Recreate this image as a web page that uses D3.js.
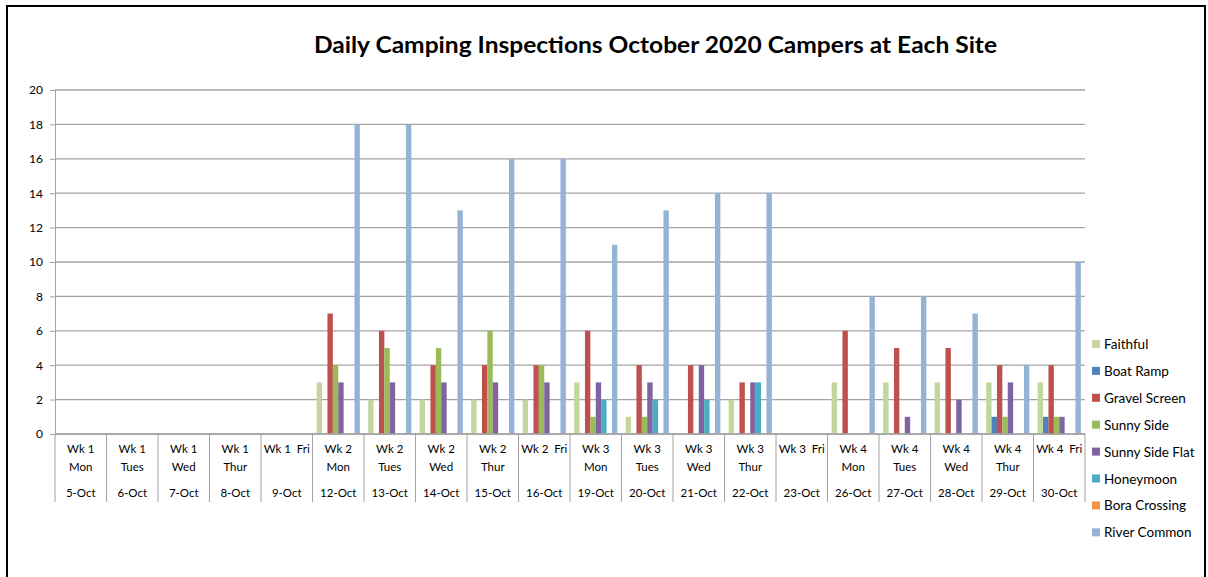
<!DOCTYPE html>
<html><head><meta charset="utf-8">
<script src="https://cdn.jsdelivr.net/npm/d3@7"></script>
<style>
html,body{margin:0;padding:0;background:#fff;}
svg{display:block;font-family:Lato,"Open Sans",sans-serif;}
</style></head>
<body>
<svg id="chart" width="1208" height="577"></svg>
<script>
// ---- data ----
const weekLabels = ["Wk 1","Wk 1","Wk 1","Wk 1","Wk 1  Fri","Wk 2","Wk 2","Wk 2","Wk 2","Wk 2  Fri","Wk 3","Wk 3","Wk 3","Wk 3","Wk 3  Fri","Wk 4","Wk 4","Wk 4","Wk 4","Wk 4  Fri"];
const dayLabels = ["Mon","Tues","Wed","Thur","","Mon","Tues","Wed","Thur","","Mon","Tues","Wed","Thur","","Mon","Tues","Wed","Thur",""];
const dates = ["5-Oct","6-Oct","7-Oct","8-Oct","9-Oct","12-Oct","13-Oct","14-Oct","15-Oct","16-Oct","19-Oct","20-Oct","21-Oct","22-Oct","23-Oct","26-Oct","27-Oct","28-Oct","29-Oct","30-Oct"];
const seriesNames = ["Faithful","Boat Ramp","Gravel Screen","Sunny Side","Sunny Side Flat","Honeymoon","Bora Crossing","River Common"];
const seriesColors = ["#c3d69b","#4f81bd","#c0504d","#9bbb59","#8064a2","#4bacc6","#f79646","#95b3d7"];
const faithful      = [0,0,0,0,0,3,2,2,2,2,3,1,0,2,0,3,3,3,3,3];
const boatRamp      = [0,0,0,0,0,0,0,0,0,0,0,0,0,0,0,0,0,0,1,1];
const gravelScreen  = [0,0,0,0,0,7,6,4,4,4,6,4,4,3,0,6,5,5,4,4];
const sunnySide     = [0,0,0,0,0,4,5,5,6,4,1,1,0,0,0,0,0,0,1,1];
const sunnySideFlat = [0,0,0,0,0,3,3,3,3,3,3,3,4,3,0,0,1,2,3,1];
const honeymoon     = [0,0,0,0,0,0,0,0,0,0,2,2,2,3,0,0,0,0,0,0];
const boraCrossing  = [0,0,0,0,0,0,0,0,0,0,0,0,0,0,0,0,0,0,0,0];
const riverCommon   = [0,0,0,0,0,18,18,13,16,16,11,13,14,14,0,8,8,7,4,10];
const yTicks = [0,2,4,6,8,10,12,14,16,18,20];
const title = "Daily Camping Inspections October 2020 Campers at Each Site";

const seriesValues = [faithful,boatRamp,gravelScreen,sunnySide,sunnySideFlat,honeymoon,boraCrossing,riverCommon];

// ---- layout ----
const svg = d3.select("#chart");
const plotLeft = 55, plotRight = 1085, plotTop = 90, plotBottom = 434;

svg.append("rect").attr("x",7).attr("y",6).attr("width",1198).attr("height",580)
  .attr("fill","#fff").attr("stroke","#000").attr("stroke-width",2);

const x0 = d3.scaleBand().domain(d3.range(dates.length)).range([plotLeft,plotRight]).padding(0);
const x1 = d3.scaleBand().domain(d3.range(seriesNames.length)).range([0,x0.bandwidth()]).paddingInner(0).paddingOuter(0.77);
const y = d3.scaleLinear().domain([0,20]).range([plotBottom,plotTop]);

// gridlines
svg.append("g").selectAll("line").data(yTicks).join("line")
  .attr("x1",plotLeft).attr("x2",plotRight).attr("y1",d=>y(d)).attr("y2",d=>y(d))
  .attr("stroke","#a3a3a3").attr("stroke-width",1.3);

// y axis
const yAxis = svg.append("g").attr("transform",`translate(${plotLeft},0)`)
  .call(d3.axisLeft(y).tickValues(yTicks).tickSize(5).tickPadding(7));
yAxis.select(".domain").attr("stroke","#a3a3a3");
yAxis.selectAll(".tick line").attr("stroke","#a3a3a3");
yAxis.selectAll("text").attr("font-family","Lato,sans-serif").attr("font-size",12).attr("fill","#000");

// bars
const groups = svg.append("g").selectAll("g").data(dates.map((d,i)=>i)).join("g")
  .attr("transform",i=>`translate(${x0(i)},0)`);
groups.selectAll("rect").data(i=>seriesValues.map((vals,s)=>({s,v:vals[i]})).filter(d=>d.v>0)).join("rect")
  .attr("x",d=>x1(d.s)).attr("width",x1.bandwidth())
  .attr("y",d=>y(d.v)).attr("height",d=>y(0)-y(d.v))
  .attr("fill",d=>seriesColors[d.s]);

// x axis
const xg = svg.append("g");
xg.append("line").attr("x1",plotLeft).attr("x2",plotRight).attr("y1",plotBottom).attr("y2",plotBottom).attr("stroke","#a3a3a3").attr("stroke-width",1.3);
const bounds = d3.range(dates.length+1).map(i=> i<dates.length ? x0(i) : plotRight);
xg.selectAll("line.sep").data(bounds).join("line").attr("class","sep")
  .attr("x1",d=>d).attr("x2",d=>d).attr("y1",plotBottom).attr("y2",502)
  .attr("stroke","#a3a3a3").attr("stroke-width",1);
const lab = xg.selectAll("g.lab").data(dates.map((d,i)=>i)).join("g").attr("class","lab")
  .attr("transform",i=>`translate(${x0(i)+x0.bandwidth()/2},0)`);
lab.append("text").attr("y",453).attr("text-anchor","middle").style("white-space","pre")
  .attr("font-size",11.5).attr("fill","#000").text(i=>weekLabels[i]);
lab.append("text").attr("y",471).attr("text-anchor","middle")
  .attr("font-size",11.5).attr("fill","#000").text(i=>dayLabels[i]);
lab.append("text").attr("y",497).attr("text-anchor","middle")
  .attr("font-size",11.5).attr("fill","#000").text(i=>dates[i]);

// title
svg.append("text").attr("x",655.5).attr("y",53).attr("text-anchor","middle")
  .attr("font-size",23).attr("font-weight","bold").attr("fill","#000")
  .attr("textLength",683).attr("lengthAdjust","spacingAndGlyphs").text(title);

// legend
const leg = svg.append("g").selectAll("g").data(seriesNames).join("g")
  .attr("transform",(d,i)=>`translate(1092,${344 + i*26.9})`);
leg.append("rect").attr("x",0).attr("y",-4).attr("width",8).attr("height",8).attr("fill",(d,i)=>seriesColors[i]);
leg.append("text").attr("x",12).attr("y",5).attr("font-size",13.5).attr("fill","#000").text(d=>d);
</script>
</body></html>
